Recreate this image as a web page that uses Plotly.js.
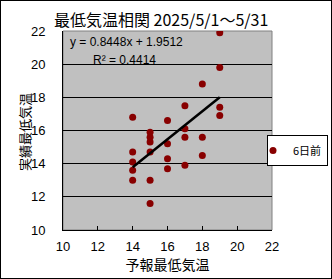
<!DOCTYPE html>
<html>
<head>
<meta charset="utf-8">
<script src="https://cdn.plot.ly/plotly-3.0.1.min.js"></script>
<style>
html,body{margin:0;padding:0;background:#fff;}
#wrap{position:relative;width:332px;height:279px;}
#chart{width:332px;height:279px;}
#frame{position:absolute;left:0;top:0;width:330px;height:277px;border:1px solid #000;pointer-events:none;}
</style>
</head>
<body>
<div id="wrap"><div id="chart"></div><div id="frame"></div></div>
<script>
// Data
const forecastMin = [19, 19, 18, 17, 19, 19, 14, 16, 17, 15, 15, 15, 17, 18, 16, 14, 15, 18, 16, 14, 14, 16, 17, 14, 15, 15];
const actualMin   = [21.9, 19.8, 18.8, 17.5, 17.4, 16.9, 16.8, 16.6, 16.1, 15.9, 15.6, 15.3, 15.6, 15.6, 15.2, 14.7, 14.7, 14.5, 14.3, 14.1, 13.6, 13.7, 13.9, 13.0, 13.0, 11.6];
const seriesName = '6日前';
const trendSlope = 0.8448;
const trendIntercept = 1.9512;
const rSquared = 0.4414;
const titleText = '最低気温相関 2025/5/1～5/31';
const xTitle = '予報最低気温';
const yTitle = '実績最低気温';
const axisTicks = [10, 12, 14, 16, 18, 20, 22];

const xMin = Math.min(...forecastMin), xMax = Math.max(...forecastMin);
const trendX = [xMin, xMax];
const trendY = trendX.map(v => trendSlope * v + trendIntercept);

const jp = '"Noto Sans CJK JP", "Liberation Sans", sans-serif';
const num = '"Liberation Sans", Arial, sans-serif';

const traces = [
  {
    x: forecastMin, y: actualMin, type: 'scatter', mode: 'markers', name: seriesName,
    marker: {color: '#880000', size: 7}
  },
  {
    x: trendX, y: trendY, type: 'scatter', mode: 'lines', showlegend: false, hoverinfo: 'skip',
    line: {color: '#000', width: 2.5}
  }
];

const layout = {
  width: 332, height: 279,
  margin: {l: 63, r: 60, t: 31, b: 49, autoexpand: false},
  paper_bgcolor: '#fff', plot_bgcolor: '#c0c0c0',
  font: {family: num, size: 13, color: '#000'},
  title: {text: titleText, font: {family: jp, size: 16, color: '#000'},
          x: 54/332, xanchor: 'left', xref: 'container', y: 1 - 20/279, yanchor: 'middle', yref: 'container'},
  xaxis: {range: [10, 22], tickvals: axisTicks, ticks: 'inside', ticklen: 4, tickcolor: '#000',
          showline: true, linecolor: '#000', linewidth: 1, showgrid: false, zeroline: false,
          ticklabelstandoff: 4,
          tickfont: {family: num, size: 13},
          title: {text: xTitle, font: {family: jp, size: 14}, standoff: 6}},
  yaxis: {range: [10, 22], tickvals: axisTicks, ticks: 'inside', ticklen: 4, tickcolor: '#000',
          showline: true, linecolor: '#000', linewidth: 1, showgrid: true, gridcolor: '#000', gridwidth: 1,
          zeroline: false, ticklabelstandoff: 14, tickfont: {family: num, size: 13}},
  legend: {x: (267-63)/209, xanchor: 'left', y: (230-135)/199, yanchor: 'top',
           bordercolor: '#000', borderwidth: 1, bgcolor: '#fff', indentation: -15,
           font: {family: jp, size: 11}, itemwidth: 30},
  shapes: [
    {type: 'rect', xref: 'paper', yref: 'paper', x0: 0, x1: 1, y0: 0, y1: 1,
     line: {color: '#808080', width: 1}, layer: 'below'}
  ],
  annotations: [
    {xref: 'paper', yref: 'paper', x: (24-63)/209, y: (230-132)/199, xanchor: 'center', yanchor: 'middle',
     text: yTitle, textangle: -90, showarrow: false, font: {family: jp, size: 13}},
    {xref: 'paper', yref: 'paper', x: (68-63)/209, y: (230-42)/199, xanchor: 'left', yanchor: 'middle',
     text: 'y = ' + trendSlope.toFixed(4) + 'x + ' + trendIntercept.toFixed(4), showarrow: false,
     font: {family: num, size: 12}},
    {xref: 'paper', yref: 'paper', x: (91-63)/209, y: (230-60)/199, xanchor: 'left', yanchor: 'middle',
     text: 'R² = ' + rSquared.toFixed(4), showarrow: false, font: {family: num, size: 12}}
  ],
  showlegend: true
};

Plotly.newPlot('chart', traces, layout, {displayModeBar: false, staticPlot: true});
</script>
</body>
</html>
